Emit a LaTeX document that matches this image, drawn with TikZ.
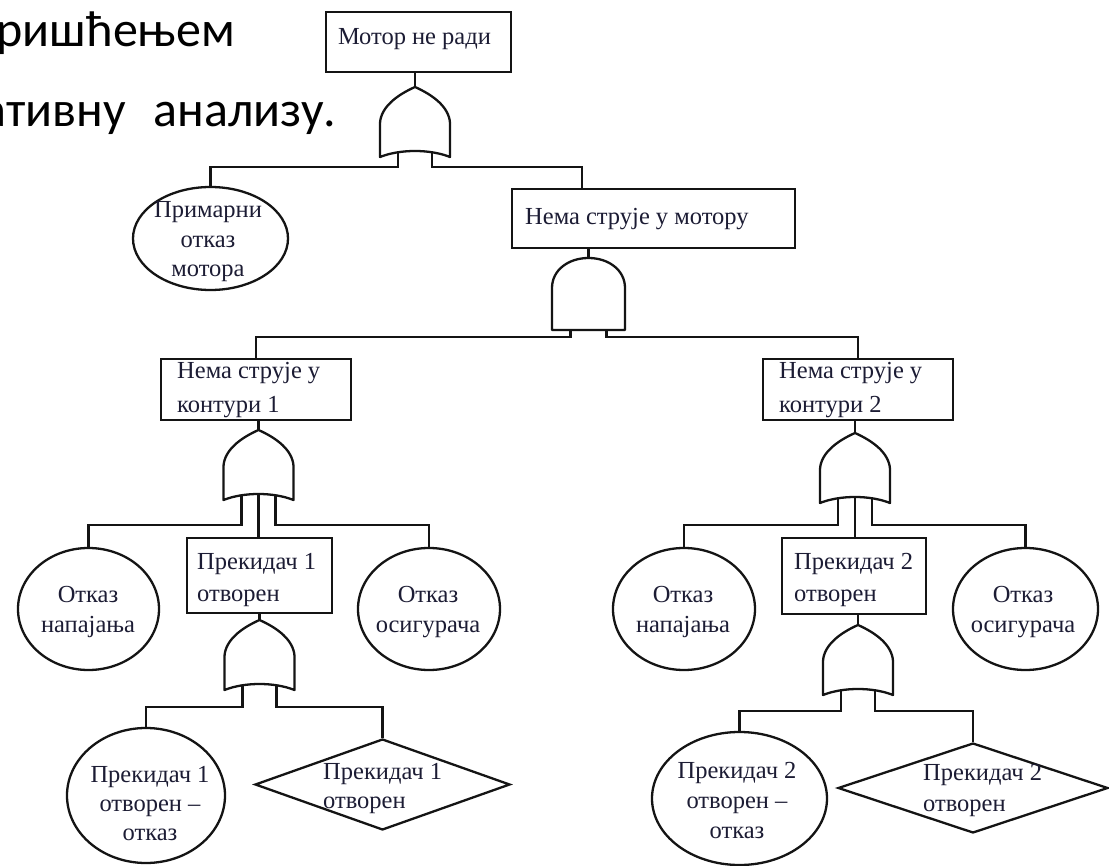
\documentclass[tikz,border=0pt]{standalone}
\usepackage{fontspec}
\setmainfont{Liberation Serif}
\newfontfamily\slidefont{Carlito}
\usetikzlibrary{shapes.geometric,calc}
\definecolor{ink}{RGB}{28,28,52}
\definecolor{wire}{RGB}{20,20,20}
\tikzset{
  conn/.style={draw=wire,line width=2.3pt},
  evbox/.style={draw=wire,line width=2.3pt,rectangle,inner sep=0pt},
  evellipse/.style={draw=wire,line width=2.3pt,ellipse,inner sep=0pt},
  evdiamond/.style={draw=wire,line width=2.3pt,diamond,inner sep=0pt},
  lbl/.style={text=ink,inner sep=0pt,font=\fontsize{24.5}{30}\selectfont},
  lblc/.style={lbl,align=center,anchor=base},
  lbll/.style={lbl,align=left,anchor=base west},
  slide/.style={text=black,inner sep=0pt,anchor=base east,font=\slidefont\fontsize{50}{58}\selectfont},
  gateline/.style={draw=wire,line width=2.3pt,line join=round},
  pics/orgate/.style={code={
    \draw[gateline] (0,0) .. controls (-18,8) and (-34,20) .. (-35,36) -- (-35,70)
      .. controls (-15,62) and (15,62) .. (35,70) -- (35,36)
      .. controls (34,20) and (18,8) .. (0,0) -- cycle;
    \coordinate (-tip) at (0,0);
    \coordinate (-in1) at (-17,65);
    \coordinate (-in2) at (17,65);
    \coordinate (-in3) at (0,64);
  }},
  pics/andgate/.style={code={
    \draw[gateline] (-36.5,72) -- (-36.5,30) .. controls (-36.5,12) and (-20,0) .. (0,0)
      .. controls (20,0) and (36.5,12) .. (36.5,30) -- (36.5,72) -- cycle;
    \coordinate (-tip) at (0,0);
    \coordinate (-in1) at (-18,72);
    \coordinate (-in2) at (18,72);
  }},
}
\begin{document}
\begin{tikzpicture}[x=1pt,y=-1pt]
\fill[white] (0,0) rectangle (1109,866);
\useasboundingbox (0,0) rectangle (1109,866);
\clip (0,0) rectangle (1109,866);

% slide text behind the tree (justified line, so the second line is set word by word)
\node[slide] (s1) at (235,47) {коришћењем};
\node[slide] (s2a) at (126,127) {квалитативну};
\node[slide] (s2b) at (336,127) {анализу.};

% top event (multi-line labels are placed by their last baseline)
\node[evbox,minimum width=185,minimum height=60] (b0) at (418.5,42) {};
\node[lblc] (b0t) at (414.5,45) {Мотор не ради};
\pic (g1) at (415,87) {orgate};

\node[evellipse,minimum width=155,minimum height=103] (e1) at (210.5,238.5) {};
\node[lblc,font=\fontsize{24.5}{29.5}\selectfont] (e1t) at (208,277) {Примарни\\отказ\\мотора};

\node[evbox,minimum width=283,minimum height=59] (b1) at (653.5,218.5) {};
\node[lbll] (b1t) at (525,225) {Нема струје у мотору};
\pic (a1) at (588.5,258) {andgate};

% circuit 1
\node[evbox,minimum width=190,minimum height=61] (b2) at (256,389.5) {};
\node[lbll,font=\fontsize{24.5}{34}\selectfont] (b2t) at (177,413) {Нема струје у\\контури 1};
\pic (g2) at (258.5,430) {orgate};

\node[evellipse,minimum width=141,minimum height=122] (e2) at (88.5,609) {};
\node[lblc] (e2t) at (88,632) {Отказ\\напајања};
\node[evbox,minimum width=145,minimum height=75] (b4) at (259.5,575.5) {};
\node[lbll,font=\fontsize{24.5}{32}\selectfont] (b4t) at (197,601) {Прекидач 1\\отворен};
\node[evellipse,minimum width=142,minimum height=122] (e3) at (429,609) {};
\node[lblc] (e3t) at (428,632) {Отказ\\осигурача};
\pic (g3) at (259.5,620) {orgate};

\node[evellipse,minimum width=158,minimum height=135] (e4) at (146,795.5) {};
\node[lblc,font=\fontsize{24.5}{29}\selectfont] (e4t) at (150,840) {Прекидач 1\\отворен –\\отказ};
\node[evdiamond,minimum width=255,minimum height=91] (d1) at (382.5,784.5) {};
\node[lbll,font=\fontsize{24.5}{29}\selectfont] (d1t) at (323,808) {Прекидач 1\\отворен};

% circuit 2
\node[evbox,minimum width=190,minimum height=61] (b3) at (858,389.5) {};
\node[lbll,font=\fontsize{24.5}{34}\selectfont] (b3t) at (779,413) {Нема струје у\\контури 2};
\pic (g4) at (855,433) {orgate};

\node[evellipse,minimum width=142,minimum height=122] (e5) at (684,609) {};
\node[lblc] (e5t) at (683,632) {Отказ\\напајања};
\node[evbox,minimum width=144,minimum height=76] (b5) at (854,576) {};
\node[lbll,font=\fontsize{24.5}{32}\selectfont] (b5t) at (794,601) {Прекидач 2\\отворен};
\node[evellipse,minimum width=145,minimum height=122] (e6) at (1025.5,609) {};
\node[lblc] (e6t) at (1023,632) {Отказ\\осигурача};
\pic (g5) at (858,625) {orgate};

\node[evellipse,minimum width=175,minimum height=133] (e7) at (739.5,798.5) {};
\node[lblc] (e7t) at (737,838) {Прекидач 2\\отворен –\\отказ};
\node[evdiamond,minimum width=270,minimum height=90] (d2) at (973,788) {};
\node[lbll,font=\fontsize{24.5}{31}\selectfont] (d2t) at (923,811) {Прекидач 2\\отворен};

% connectors
\draw[conn] (g1-tip) -- (g1-tip |- b0.south);
\draw[conn] (g1-in1) -- ++(0,15) -| (e1.north);
\draw[conn] (g1-in2) -- ++(0,15) -| ($(b1.north west)!0.25!(b1.north east)$);
\draw[conn] (a1-tip) -- (a1-tip |- b1.south);
\draw[conn] (a1-in1) -- ++(0,7) -| (b2.north);
\draw[conn] (a1-in2) -- ++(0,7) -| (b3.north);

\draw[conn] (g2-tip) -- (g2-tip |- b2.south);
\draw[conn] (g2-in1) -- ++(0,30) -| (e2.north);
\draw[conn] (g2-in3) -- (g2-in3 |- b4.north);
\draw[conn] (g2-in2) -- ++(0,30) -| (e3.north);
\draw[conn] (g3-tip) -- (g3-tip |- b4.south);
\draw[conn] (g3-in1) -- ++(0,22) -| (e4.north);
\draw[conn] (g3-in2) -- ++(0,22) -| (d1.north);

\draw[conn] (g4-tip) -- (g4-tip |- b3.south);
\draw[conn] (g4-in1) -- ++(0,27) -| (e5.north);
\draw[conn] (g4-in3) -- (g4-in3 |- b5.north);
\draw[conn] (g4-in2) -- ++(0,27) -| (e6.north);
\draw[conn] (g5-tip) -- (g5-tip |- b5.south);
\draw[conn] (g5-in1) -- ++(0,21) -| (e7.north);
\draw[conn] (g5-in2) -- ++(0,21) -| (d2.north);
\end{tikzpicture}
\end{document}
